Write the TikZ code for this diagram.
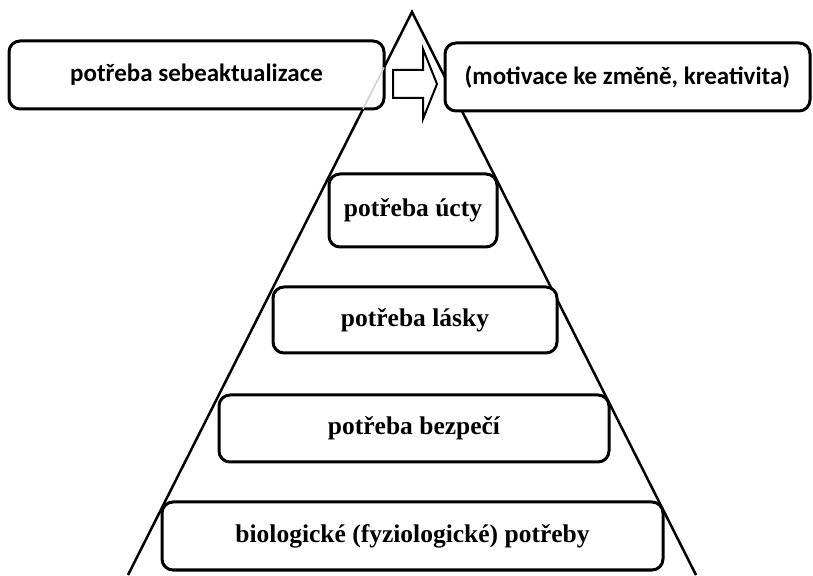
\documentclass[tikz,border=0pt]{standalone}
\usepackage{fontspec}
\setmainfont{Liberation Serif}
\newfontfamily\calib{Carlito}
\begin{document}
\begin{tikzpicture}[x=1pt,y=1pt,
  box/.style={draw, line width=3pt, rounded corners=11pt, fill=white, inner sep=0pt, outer sep=0pt, align=center},
  topbox/.style={box, font=\calib\bfseries\fontsize{25}{30}\selectfont},
  levelbox/.style={box, font=\bfseries\fontsize{25.5}{30}\selectfont},
  pyr/.style={line width=2.5pt, line join=miter},
  blockarrow/.style={draw, line width=2pt, line join=miter, fill=white}]
\useasboundingbox (0,0) rectangle (813,575);
% pyramid
\coordinate (apex) at (412,563);
\coordinate (bl) at (128,0);
\coordinate (br) at (696,0);
\draw[pyr] (bl) -- (apex) -- (br);
% top row
\node[topbox, minimum width=375pt, minimum height=68pt] (self) at (196.5,500) {potřeba sebeaktualizace};
\node[topbox, minimum width=365pt, minimum height=68pt] (motiv) at (627.5,498) {(motivace ke změně, kreativita)};
% faint trace of the pyramid line through the left box
\draw[black!18, line width=1.5pt] (384,507.5) -- (363,466);
% block arrow
\draw[blockarrow] (393,477) -- (423,477) -- (423,456) -- (437,491) -- (423,526) -- (423,505) -- (393,505) -- cycle;
% levels
\node[levelbox, minimum width=168pt, minimum height=73pt] (esteem) at (413,364.5) {potřeba úcty};
\node[levelbox, minimum width=284pt, minimum height=66pt] (love) at (415,255) {potřeba lásky};
\node[levelbox, minimum width=390pt, minimum height=67pt] (safety) at (414,146.5) {potřeba bezpečí};
\node[levelbox, minimum width=501pt, minimum height=68pt] (bio) at (412.5,39) {biologické (fyziologické) potřeby};
\end{tikzpicture}
\end{document}
